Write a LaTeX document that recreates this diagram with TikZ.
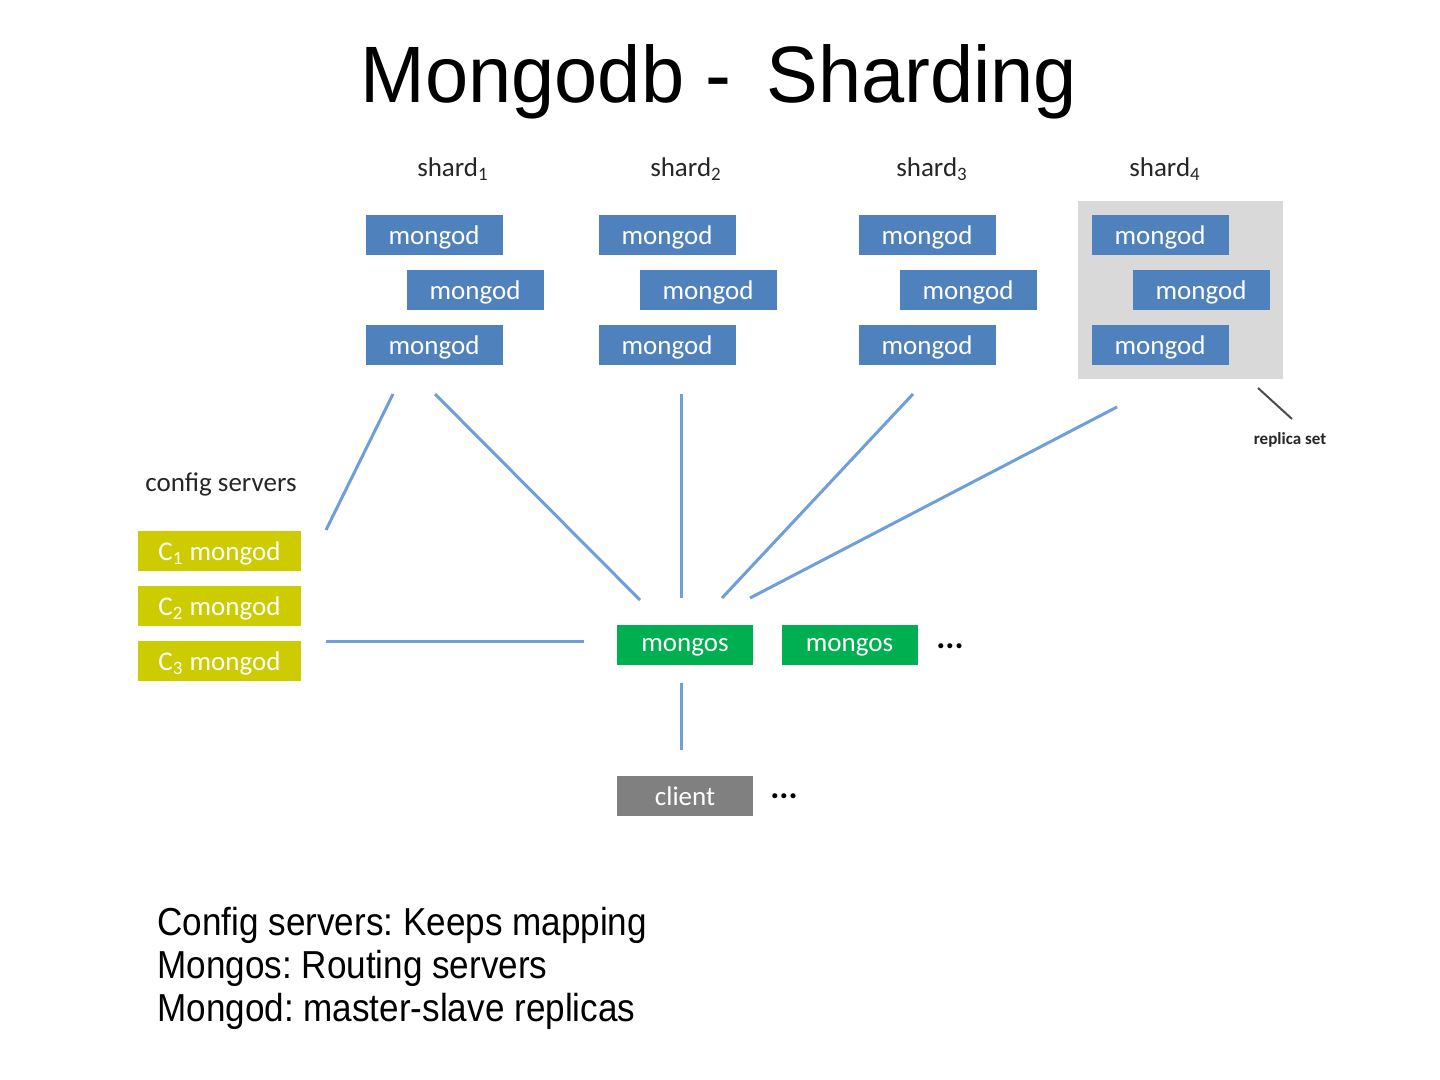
\documentclass[tikz,border=0pt]{standalone}
\usepackage{fontspec}
\setmainfont{Carlito}
\newfontfamily\titlefont[FakeStretch=0.97]{Liberation Sans}
\newfontfamily\notefont[FakeStretch=0.9]{Liberation Sans}
\definecolor{mblue}{HTML}{4F81BD}
\definecolor{lblue}{HTML}{6F9FDA}
\definecolor{rsgray}{HTML}{D9D9D9}
\definecolor{cfg}{HTML}{CCCC00}
\definecolor{mgreen}{HTML}{00B050}
\definecolor{cgray}{HTML}{808080}
\definecolor{lbl}{HTML}{262626}
\frenchspacing
\tikzset{
  box/.style={rectangle, inner sep=0pt, text=white, font=\fontsize{13.5pt}{15pt}\selectfont, minimum height=20pt, text depth=0pt},
  mongodbox/.style={box, fill=mblue, minimum width=68.5pt},
  cfgbox/.style={box, fill=cfg, minimum width=81.5pt},
  mongosbox/.style={box, fill=mgreen, minimum width=68pt},
  clientbox/.style={box, fill=cgray, minimum width=68pt},
  lab/.style={inner sep=0pt, text=lbl, font=\fontsize{13.5pt}{15pt}\selectfont},
  dotslab/.style={inner sep=0pt, font=\bfseries\fontsize{17pt}{18pt}\selectfont},
  link/.style={draw=lblue, line width=1.5pt},
  note/.style={inner sep=0pt, anchor=base west, font=\notefont\fontsize{19.5pt}{21pt}\selectfont}
}
\begin{document}
\begin{tikzpicture}[x=0.5pt,y=-0.5pt]
\path[use as bounding box, fill=white] (0,0) rectangle (1440,1080);
% title
\node[inner sep=0pt, anchor=base, font=\titlefont\fontsize{40pt}{44pt}\selectfont] (title) at (719,103) {Mongodb -\, Sharding};
% replica set background
\node[rectangle, fill=rsgray, minimum width=102.5pt, minimum height=89pt, inner sep=0pt] (rs) at (1180.5,290) {};
% shard labels
\node[lab] (l1) at (453,169) {shard\textsubscript{1}};
\node[lab] (l2) at (686,169) {shard\textsubscript{2}};
\node[lab] (l3) at (932,169) {shard\textsubscript{3}};
\node[lab] (l4) at (1165,169) {shard\textsubscript{4}};
% mongod boxes
\node[mongodbox] (s1a) at (434,235.5) {mongod};
\node[mongodbox] (s1b) at (475,290.5) {mongod};
\node[mongodbox] (s1c) at (434,345.5) {mongod};
\node[mongodbox] (s2a) at (667,235.5) {mongod};
\node[mongodbox] (s2b) at (708,290.5) {mongod};
\node[mongodbox] (s2c) at (667,345.5) {mongod};
\node[mongodbox] (s3a) at (927,235.5) {mongod};
\node[mongodbox] (s3b) at (968,290.5) {mongod};
\node[mongodbox] (s3c) at (927,345.5) {mongod};
\node[mongodbox] (s4a) at (1160,235.5) {mongod};
\node[mongodbox] (s4b) at (1201,290.5) {mongod};
\node[mongodbox] (s4c) at (1160,345.5) {mongod};
% replica set label
\node[inner sep=0pt, text=lbl, font=\bfseries\fontsize{8.5pt}{9pt}\selectfont] (rslab) at (1290,440) {replica set};
\coordinate (rsp1) at (1258,388);
\coordinate (rsp2) at (1292,419);
\draw[draw=black!70, line width=1pt] (rsp1) -- (rsp2);
% config servers
\node[lab] (cfglab) at (221,484) {config servers};
\node[cfgbox] (c1) at (219.5,551) {C\textsubscript{1} mongod};
\node[cfgbox] (c2) at (219.5,606) {C\textsubscript{2} mongod};
\node[cfgbox] (c3) at (219.5,661) {C\textsubscript{3} mongod};
% mongos
\node[mongosbox] (m1) at (685,645) {mongos};
\node[mongosbox] (m2) at (849.5,645) {mongos};
\node[dotslab] (dots1) at (950,646) {...};
% client
\node[clientbox] (cl) at (685,796) {client};
\node[dotslab] (dots2) at (784,796) {...};
% connector end points
\coordinate (a1) at (393,394);
\coordinate (a2) at (326,530);
\coordinate (b1) at (435,394);
\coordinate (b2) at (640,600);
\coordinate (d1) at (681,394);
\coordinate (d2) at (681,598);
\coordinate (e1) at (913,394);
\coordinate (e2) at (722,598);
\coordinate (f1) at (1117,407);
\coordinate (f2) at (750,598);
\coordinate (g1) at (326,641);
\coordinate (g2) at (584,641);
\coordinate (h1) at (681,683);
\coordinate (h2) at (681,750);
\draw[link] (a1) -- (a2);
\draw[link] (b1) -- (b2);
\draw[link] (d1) -- (d2);
\draw[link] (e1) -- (e2);
\draw[link] (f1) -- (f2);
\draw[link] (g1) -- (g2);
\draw[link] (h1) -- (h2);
% notes
\node[note] (n1) at (157,935) {Config servers: Keeps mapping};
\node[note] (n2) at (157,978) {Mongos: Routing servers};
\node[note] (n3) at (157,1021) {Mongod: master-slave replicas};
\end{tikzpicture}
\end{document}
